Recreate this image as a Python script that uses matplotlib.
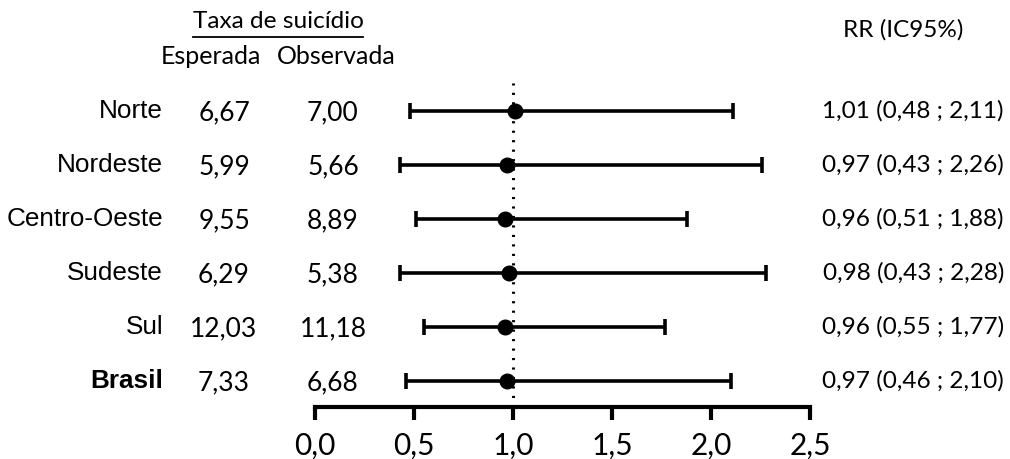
import matplotlib
matplotlib.use('Agg')
import matplotlib.pyplot as plt
from matplotlib.transforms import blended_transform_factory
from matplotlib.lines import Line2D

# data
regions = ['Norte', 'Nordeste', 'Centro-Oeste', 'Sudeste', 'Sul', 'Brasil']
expected = ['6,67', '5,99', '9,55', '6,29', '12,03', '7,33']
observed = ['7,00', '5,66', '8,89', '5,38', '11,18', '6,68']
rr = [1.01, 0.97, 0.96, 0.98, 0.96, 0.97]
ci_low = [0.48, 0.43, 0.51, 0.43, 0.55, 0.46]
ci_high = [2.11, 2.26, 1.88, 2.28, 1.77, 2.10]
xticks = [0.0, 0.5, 1.0, 1.5, 2.0, 2.5]

W, H = 1010, 459
fig = plt.figure(figsize=(W / 100, H / 100), dpi=100)
ax = fig.add_axes([315 / W, 52 / H, 495 / W, (407 - 83) / H])

rows = list(range(len(regions)))
err = [[r - lo for r, lo in zip(rr, ci_low)], [hi - r for r, hi in zip(rr, ci_high)]]
ax.errorbar(rr, rows, xerr=err, fmt='o', color='black', ms=10.5,
            elinewidth=2.6, capsize=6, capthick=2.6, clip_on=False, zorder=3)
ax.axvline(1.0, color='black', lw=2.2, linestyle=(0, (0.7, 2.4)), zorder=2)

ax.set_xlim(0, 2.5)
ax.set_ylim(5.48, -0.52)
ax.set_xticks(xticks)
ax.set_xticklabels([f'{t:.1f}'.replace('.', ',') for t in xticks],
                   fontfamily='Lato', fontsize=21.5)
ax.set_yticks([])
for s in ['top', 'right', 'left']:
    ax.spines[s].set_visible(False)
ax.spines['bottom'].set_linewidth(3)
ax.tick_params(axis='x', length=9, width=3, pad=9)

tr = blended_transform_factory(fig.transFigure, ax.transData)
for i, name in enumerate(regions):
    bold = name == 'Brasil'
    fig.text(163 / W, i, name, transform=tr, ha='right', va='center',
             fontfamily='Liberation Sans', fontsize=18.8,
             fontweight='bold' if bold else 'normal')
    fig.text(224 / W, i + 0.03, expected[i], transform=tr, ha='center', va='center',
             fontfamily='Lato', fontsize=19)
    fig.text(333 / W, i + 0.03, observed[i], transform=tr, ha='center', va='center',
             fontfamily='Lato', fontsize=19)
    label = f'{rr[i]:.2f} ({ci_low[i]:.2f} ; {ci_high[i]:.2f})'.replace('.', ',')
    fig.text(1004 / W, i, label, transform=tr, ha='right', va='center',
             fontfamily='Lato', fontsize=17.6)

title = fig.text(278 / W, 1 - 22 / H, 'Taxa de suicídio', ha='center', va='center',
                 fontfamily='Lato', fontsize=17.6)
fig.text(211 / W, 1 - 57 / H, 'Esperada', ha='center', va='center',
         fontfamily='Lato', fontsize=18)
fig.text(336 / W, 1 - 57 / H, 'Observada', ha='center', va='center',
         fontfamily='Lato', fontsize=18)
fig.text(903 / W, 1 - 30 / H, 'RR (IC95%)', ha='center', va='center',
         fontfamily='Lato', fontsize=17.5)

# underline the header
fig.canvas.draw()
bb = title.get_window_extent()
fig.add_artist(Line2D([bb.x0 / W, bb.x1 / W], [1 - 37 / H, 1 - 37 / H],
                      transform=fig.transFigure, color='black', lw=1.3))

fig.savefig('out.png', dpi=100, facecolor='white')
